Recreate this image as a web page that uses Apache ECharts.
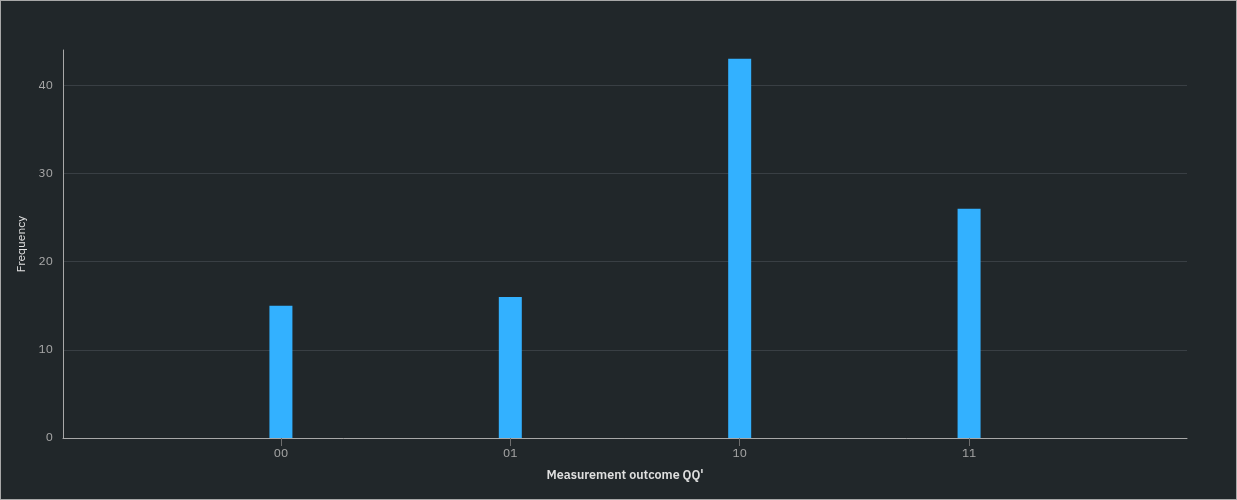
<!DOCTYPE html>
<html>
<head>
  <meta charset="UTF-8">
  <title>Measurement outcome histogram</title>
  <script src="https://cdn.jsdelivr.net/npm/echarts@6/dist/echarts.min.js"></script>
  <style>
    html, body { margin: 0; padding: 0; background: #21272a; }
    #chart {
      width: 1235px;
      height: 498px;
      border: 1px solid #a8a8a8;
      background: #21272a;
    }
  </style>
</head>
<body>
  <div id="chart"></div>
  <script>
    // outcomes and counts
    var outcomes = ['00', '01', '10', '11'];
    var counts = [15, 16, 43, 26];
    var yTicks = [0, 10, 20, 30, 40];

    var chart = echarts.init(document.getElementById('chart'));

    var barData = outcomes.map(function (o, i) { return [i, counts[i]]; });
    var tickIdx = outcomes.map(function (o, i) { return i; });

    var font = '"IBM Plex Sans", "Noto Sans", sans-serif';

    chart.setOption({
      backgroundColor: '#21272a',
      animation: false,
      grid: { left: 62, right: 49, top: 49, bottom: 61 },
      xAxis: {
        type: 'value',
        min: -0.95,
        max: 3.95,
        name: "Measurement outcome QQ'",
        nameLocation: 'middle',
        nameGap: 31,
        nameTextStyle: { color: '#e0e0e0', fontSize: 12.5, fontWeight: 600, fontFamily: font },
        axisLine: { show: true, onZero: false, lineStyle: { color: '#a8a8a8', width: 1 } },
        axisTick: { show: true, customValues: tickIdx, length: 8, lineStyle: { color: '#6f6f6f' } },
        axisLabel: {
          customValues: tickIdx,
          color: '#a8a8a8',
          fontSize: 12,
          fontFamily: font,
          margin: 10,
          formatter: function (v) { return outcomes[Math.round(v)]; }
        },
        splitLine: { show: false }
      },
      yAxis: {
        type: 'value',
        min: 0,
        max: 44,
        interval: 10,
        name: 'Frequency',
        nameLocation: 'middle',
        nameGap: 31,
        nameRotate: 90,
        nameTextStyle: { color: '#e0e0e0', fontSize: 12, fontFamily: font },
        axisLine: { show: true, onZero: false, lineStyle: { color: '#a8a8a8', width: 1 } },
        axisTick: { show: false },
        axisLabel: {
          color: '#a8a8a8',
          fontSize: 12,
          fontFamily: font,
          margin: 10,
          customValues: yTicks
        },
        splitLine: {
          show: true,
          showMinLine: false,
          showMaxLine: false,
          lineStyle: { color: '#393f44', width: 1 }
        }
      },
      series: [{
        type: 'bar',
        data: barData,
        barWidth: 23,
        itemStyle: { color: '#33b1ff' }
      }]
    });
  </script>
</body>
</html>
